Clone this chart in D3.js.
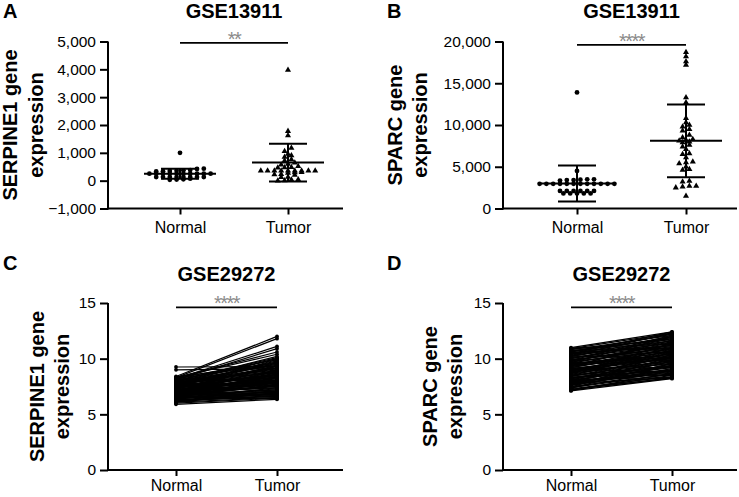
<!DOCTYPE html>
<html><head><meta charset="utf-8">
<script src="https://cdn.jsdelivr.net/npm/d3@7"></script>
<style>body{margin:0;background:#fff;} svg{display:block;font-family:"Liberation Sans",Arial,Helvetica,sans-serif;}</style>
</head><body><svg id="c" width="739" height="497"></svg>
<script>
// ---------- data ----------
const categories = ["Normal", "Tumor"];

// Panel A: GSE13911 SERPINE1
const serpineNormalA = [1000, 430, 420, 380, 370, 360, 350, 340, 330, 250, 250, 250, 250, 250, 250, 250, 250, 250, 250, 130, 130, 130, 130, 130, 130, 130, 130, 70, 50, 40, 30];
const serpineTumorA = [3980, 1780, 1620, 1170, 1060, 960, 900, 850, 760, 720, 640, 600, 570, 520, 480, 470, 460, 360, 360, 360, 360, 360, 360, 360, 360, 360, 300, 290, 280, 230, 220, 200, 130, 120, 40, 30, 10, 0];
const meanA = [250, 650];
const sdA = [180, 680];
const ticksA = [-1000, 0, 1000, 2000, 3000, 4000, 5000];

// Panel B: GSE13911 SPARC
const sparcNormalB = [13900, 4500, 3500, 3500, 3450, 3400, 3400, 3350, 2950, 2950, 2950, 2950, 2950, 2950, 2950, 2950, 2950, 2950, 2950, 2950, 2100, 2100, 2100, 2100, 2100, 2100, 1800, 1800, 1800, 1800, 1800];
const sparcTumorB = [18700, 18200, 17600, 17200, 13300, 12700, 10800, 10300, 10000, 9800, 9500, 9300, 8800, 8500, 8300, 8200, 8100, 8000, 7900, 7600, 7400, 7100, 6600, 6500, 6100, 5600, 5500, 5400, 5000, 4700, 4600, 3300, 3200, 2700, 2700, 2600, 2500, 1500];
const meanB = [3000, 8100];
const sdB = [2150, 4350];
const ticksB = [0, 5000, 10000, 15000, 20000];

// Panel C: GSE29272 SERPINE1 (paired)
const serpineNormalC = [9.25, 9.0, 8.4, 8.3, 8.2, 8.1, 8.3, 8.0, 8.2, 7.9, 8.1, 7.8, 8.0, 7.7, 7.6, 7.9, 7.5, 7.4, 7.7, 7.3, 7.6, 7.2, 7.5, 7.1, 7.4, 7.0, 7.3, 6.9, 7.2, 6.8, 7.1, 6.7, 7.0, 6.6, 6.9, 6.5, 6.8, 6.4, 6.7, 6.3, 6.6, 6.2, 6.5, 6.1, 6.0, 5.9, 8.35, 7.85, 7.55, 7.25, 6.95, 6.45, 6.75, 7.05, 7.65, 8.05, 6.35, 6.15, 6.55, 7.45, 7.35, 6.85, 7.15, 7.95, 6.25, 7.8, 8.15, 7.0, 6.6, 7.6,
  7.0, 7.2, 7.4, 6.8, 6.6, 7.6, 7.8, 6.4, 6.2, 7.1, 7.3, 6.9, 6.7, 7.5, 7.7, 8.0, 6.5, 7.9, 6.3, 7.2, 6.9, 7.4, 8.2, 6.1, 7.0, 6.6, 7.8, 8.3, 7.6, 6.8];
const serpineTumorC  = [9.3, 9.1, 12.0, 11.8, 11.1, 10.9, 10.4, 10.1, 9.9, 10.0, 9.7, 9.5, 9.4, 9.8, 9.2, 9.0, 9.6, 8.9, 8.8, 9.3, 8.6, 8.7, 8.5, 8.4, 8.2, 8.9, 8.0, 8.3, 7.9, 8.1, 7.7, 7.8, 7.5, 7.6, 7.4, 7.3, 7.2, 7.1, 7.0, 6.9, 6.8, 6.7, 6.6, 6.5, 6.45, 6.35, 9.6, 8.3, 7.9, 7.6, 7.0, 6.9, 8.0, 8.5, 9.1, 8.7, 7.4, 7.1, 7.7, 9.9, 8.6, 7.9, 8.8, 10.2, 6.6, 7.5, 8.0, 6.6, 6.4, 7.0,
  7.8, 8.1, 8.6, 7.5, 7.2, 8.3, 8.9, 6.8, 6.9, 9.0, 9.4, 8.4, 7.6, 8.0, 9.3, 9.1, 7.0, 8.4, 6.5, 7.3, 6.7, 7.9, 9.5, 6.9, 8.2, 7.9, 10.0, 10.6, 9.7, 8.6];

// Panel D: GSE29272 SPARC (paired)
const sparcNormalD = [11.0, 10.9, 10.8, 10.7, 10.6, 10.5, 10.4, 10.3, 10.2, 10.1, 10.0, 9.9, 9.8, 9.7, 9.6, 9.5, 9.4, 9.3, 9.2, 9.1, 9.0, 8.9, 8.8, 8.7, 8.6, 8.5, 8.4, 8.3, 8.2, 8.1, 8.0, 7.9, 7.8, 7.7, 7.6, 7.5, 7.4, 7.3, 7.2, 7.1, 10.95, 10.75, 10.45, 10.15, 9.85, 9.55, 9.25, 8.95, 8.65, 8.35, 8.05, 7.75, 7.45, 7.15, 9.45, 9.05, 8.55, 10.25, 7.95, 7.65, 8.75, 9.65, 10.55, 7.35, 8.15, 9.15, 7.85, 8.45, 7.25, 10.85,
  9.0, 9.4, 8.6, 8.2, 9.8, 10.2, 7.8, 7.4, 10.6, 9.2, 8.8, 8.4, 9.6, 10.0, 7.6, 8.0, 9.35, 10.4, 8.9, 7.7, 8.25, 9.75, 10.65, 7.2, 8.5, 9.1, 7.9, 8.7, 9.9, 10.3];
const sparcTumorD  = [12.4, 12.3, 12.1, 11.8, 12.2, 11.6, 12.0, 11.4, 11.9, 11.2, 11.5, 11.0, 11.3, 10.8, 11.1, 10.6, 10.9, 10.4, 10.7, 10.2, 10.5, 10.0, 10.3, 9.8, 10.1, 9.6, 9.9, 9.4, 9.7, 9.2, 9.5, 9.0, 9.3, 8.8, 9.1, 8.6, 8.9, 8.4, 8.5, 8.2, 11.3, 10.9, 12.4, 10.6, 12.1, 10.1, 11.7, 9.5, 11.4, 8.9, 10.6, 8.3, 10.2, 8.7, 9.9, 8.8, 8.5, 10.0, 8.6, 9.8, 11.0, 12.0, 11.0, 9.6, 8.3, 9.2, 10.4, 10.8, 8.25, 11.7,
  10.1, 10.6, 9.9, 9.3, 11.2, 11.6, 8.9, 8.6, 11.9, 10.9, 9.7, 10.2, 10.3, 11.8, 9.0, 8.7, 11.5, 11.2, 10.6, 9.4, 9.0, 10.7, 12.2, 8.3, 9.3, 10.0, 9.9, 10.5, 10.9, 12.3];
const ticksCD = [0, 5, 10, 15];

// ---------- drawing ----------
const svg = d3.select("#c");
const fmt = v => (v < 0 ? "\u2212" : "") + d3.format(",")(Math.abs(v));

function frame(p) {
  const g = svg.append("g");
  const y = d3.scaleLinear().domain(p.domain).range([p.bottom, p.top]);
  const x = d3.scalePoint().domain(categories).range(p.cat);
  g.append("text").attr("x", p.letterX).attr("y", p.letterY).attr("font-size", 20).attr("font-weight", "bold").text(p.letter);
  g.append("text").attr("x", (p.cat[0] + p.cat[1]) / 2).attr("y", p.titleY).attr("text-anchor", "middle")
    .attr("font-size", 20).attr("font-weight", "bold").text(p.title);
  const cy = (p.top + p.bottom) / 2;
  p.ylab.forEach((t, i) => {
    g.append("text").attr("transform", `translate(${p.ylabX[i]},${cy}) rotate(-90)`)
      .attr("text-anchor", "middle").attr("font-size", 20).attr("font-weight", "bold").text(t);
  });
  const ya = d3.axisLeft(y).tickValues(p.ticks).tickFormat(fmt).tickSize(8).tickPadding(4).tickSizeOuter(0);
  const yg = g.append("g").attr("transform", `translate(${p.left},0)`).call(ya);
  yg.select(".domain").attr("stroke-width", 2).attr("d", `M0,${p.bottom + 1}V${p.top}`);
  yg.selectAll(".tick line").attr("stroke-width", 2);
  yg.selectAll("text").attr("font-size", 15.5).attr("font-family", "Liberation Sans, Arial, sans-serif").attr("fill", "#000");
  const xa = d3.axisBottom(x).tickSize(6).tickPadding(p.xPad).tickSizeOuter(0);
  const xg = g.append("g").attr("transform", `translate(0,${p.bottom})`).call(xa);
  xg.select(".domain").attr("stroke-width", 2).attr("d", `M${p.left - 1},0H${p.right}`);
  xg.selectAll(".tick line").attr("stroke-width", 2);
  xg.selectAll("text").attr("font-size", 16).attr("font-family", "Liberation Sans, Arial, sans-serif").attr("fill", "#000");
  const sy = y(p.sigVal);
  g.append("line").attr("x1", x("Normal")).attr("x2", x("Tumor")).attr("y1", sy).attr("y2", sy)
    .attr("stroke", "#000").attr("stroke-width", 1.8);
  g.append("text").attr("x", (x("Normal") + x("Tumor")) / 2).attr("y", sy + 3).attr("text-anchor", "middle")
    .attr("font-size", 20).attr("fill", "#8a8a8a").attr("letter-spacing", -1.5).text(p.stars);
  return { g, x, y };
}

function swarmPositions(values, y, cx) {
  const pts = values.map(v => ({ v, py: y(v) }));
  const bins = d3.group(pts, d => Math.round(d.py / 3.4));
  bins.forEach(arr => {
    arr.sort((a, b) => a.v - b.v);
    const n = arr.length;
    arr.forEach((d, i) => { d.px = cx + (i - (n - 1) / 2) * 6.8; });
  });
  return pts;
}

function scatterPanel(p, normal, tumor, mean, sd) {
  const { g, x, y } = frame(p);
  const nPts = swarmPositions(normal, y, x("Normal"));
  const tPts = swarmPositions(tumor, y, x("Tumor"));
  g.selectAll(".cn").data(nPts).join("circle").attr("cx", d => d.px).attr("cy", d => d.py).attr("r", 2.4).attr("fill", "#000");
  const tri = d3.symbol(d3.symbolTriangle).size(16);
  g.selectAll(".tt").data(tPts).join("path").attr("transform", d => `translate(${d.px},${d.py})`).attr("d", tri).attr("fill", "#000");
  categories.forEach((c, i) => {
    const cx = x(c);
    const eg = g.append("g").attr("stroke", "#000").attr("stroke-width", 2);
    eg.append("line").attr("x1", cx).attr("x2", cx).attr("y1", y(mean[i] - sd[i])).attr("y2", y(mean[i] + sd[i]));
    eg.append("line").attr("x1", cx - 36).attr("x2", cx + 36).attr("y1", y(mean[i])).attr("y2", y(mean[i]));
    [mean[i] - sd[i], mean[i] + sd[i]].forEach(v =>
      eg.append("line").attr("x1", cx - 19).attr("x2", cx + 19).attr("y1", y(v)).attr("y2", y(v)));
  });
}

function pairedPanel(p, normal, tumor) {
  const { g, x, y } = frame(p);
  const pairs = normal.map((n, i) => ({ n, t: tumor[i] }));
  g.selectAll(".pl").data(pairs).join("line")
    .attr("x1", x("Normal")).attr("x2", x("Tumor"))
    .attr("y1", d => y(d.n)).attr("y2", d => y(d.t))
    .attr("stroke", "#000").attr("stroke-width", 1.2);
  g.selectAll(".pn").data(pairs).join("circle").attr("cx", x("Normal")).attr("cy", d => y(d.n)).attr("r", 1.9).attr("fill", "#000");
  g.selectAll(".pt").data(pairs).join("circle").attr("cx", x("Tumor")).attr("cy", d => y(d.t)).attr("r", 1.9).attr("fill", "#000");
}

scatterPanel({ letter: "A", letterX: 3, letterY: 18, title: "GSE13911", titleY: 18,
  ylab: ["SERPINE1 gene", "expression"], ylabX: [17, 43],
  domain: [-1000, 5000], ticks: ticksA, top: 41.5, bottom: 208.5, left: 108, right: 343, xPad: 7,
  cat: [180, 288], sigVal: 4950, stars: "**" }, serpineNormalA, serpineTumorA, meanA, sdA);

scatterPanel({ letter: "B", letterX: 387, letterY: 18, title: "GSE13911", titleY: 18,
  ylab: ["SPARC gene", "expression"], ylabX: [402, 427],
  domain: [0, 20000], ticks: ticksB, top: 41.5, bottom: 208.5, left: 503, right: 737, xPad: 7,
  cat: [577, 686], sigVal: 19600, stars: "****" }, sparcNormalB, sparcTumorB, meanB, sdB);

pairedPanel({ letter: "C", letterX: 3, letterY: 270, title: "GSE29272", titleY: 281,
  ylab: ["SERPINE1 gene", "expression"], ylabX: [44, 69],
  domain: [0, 15], ticks: ticksCD, top: 303, bottom: 470, left: 108, right: 343, xPad: 4,
  cat: [176, 277], sigVal: 14.6, stars: "****" }, serpineNormalC, serpineTumorC);

pairedPanel({ letter: "D", letterX: 387, letterY: 270, title: "GSE29272", titleY: 281,
  ylab: ["SPARC gene", "expression"], ylabX: [437, 462],
  domain: [0, 15], ticks: ticksCD, top: 303, bottom: 470, left: 503, right: 737, xPad: 4,
  cat: [571, 672], sigVal: 14.6, stars: "****" }, sparcNormalD, sparcTumorD);
</script></body></html>
